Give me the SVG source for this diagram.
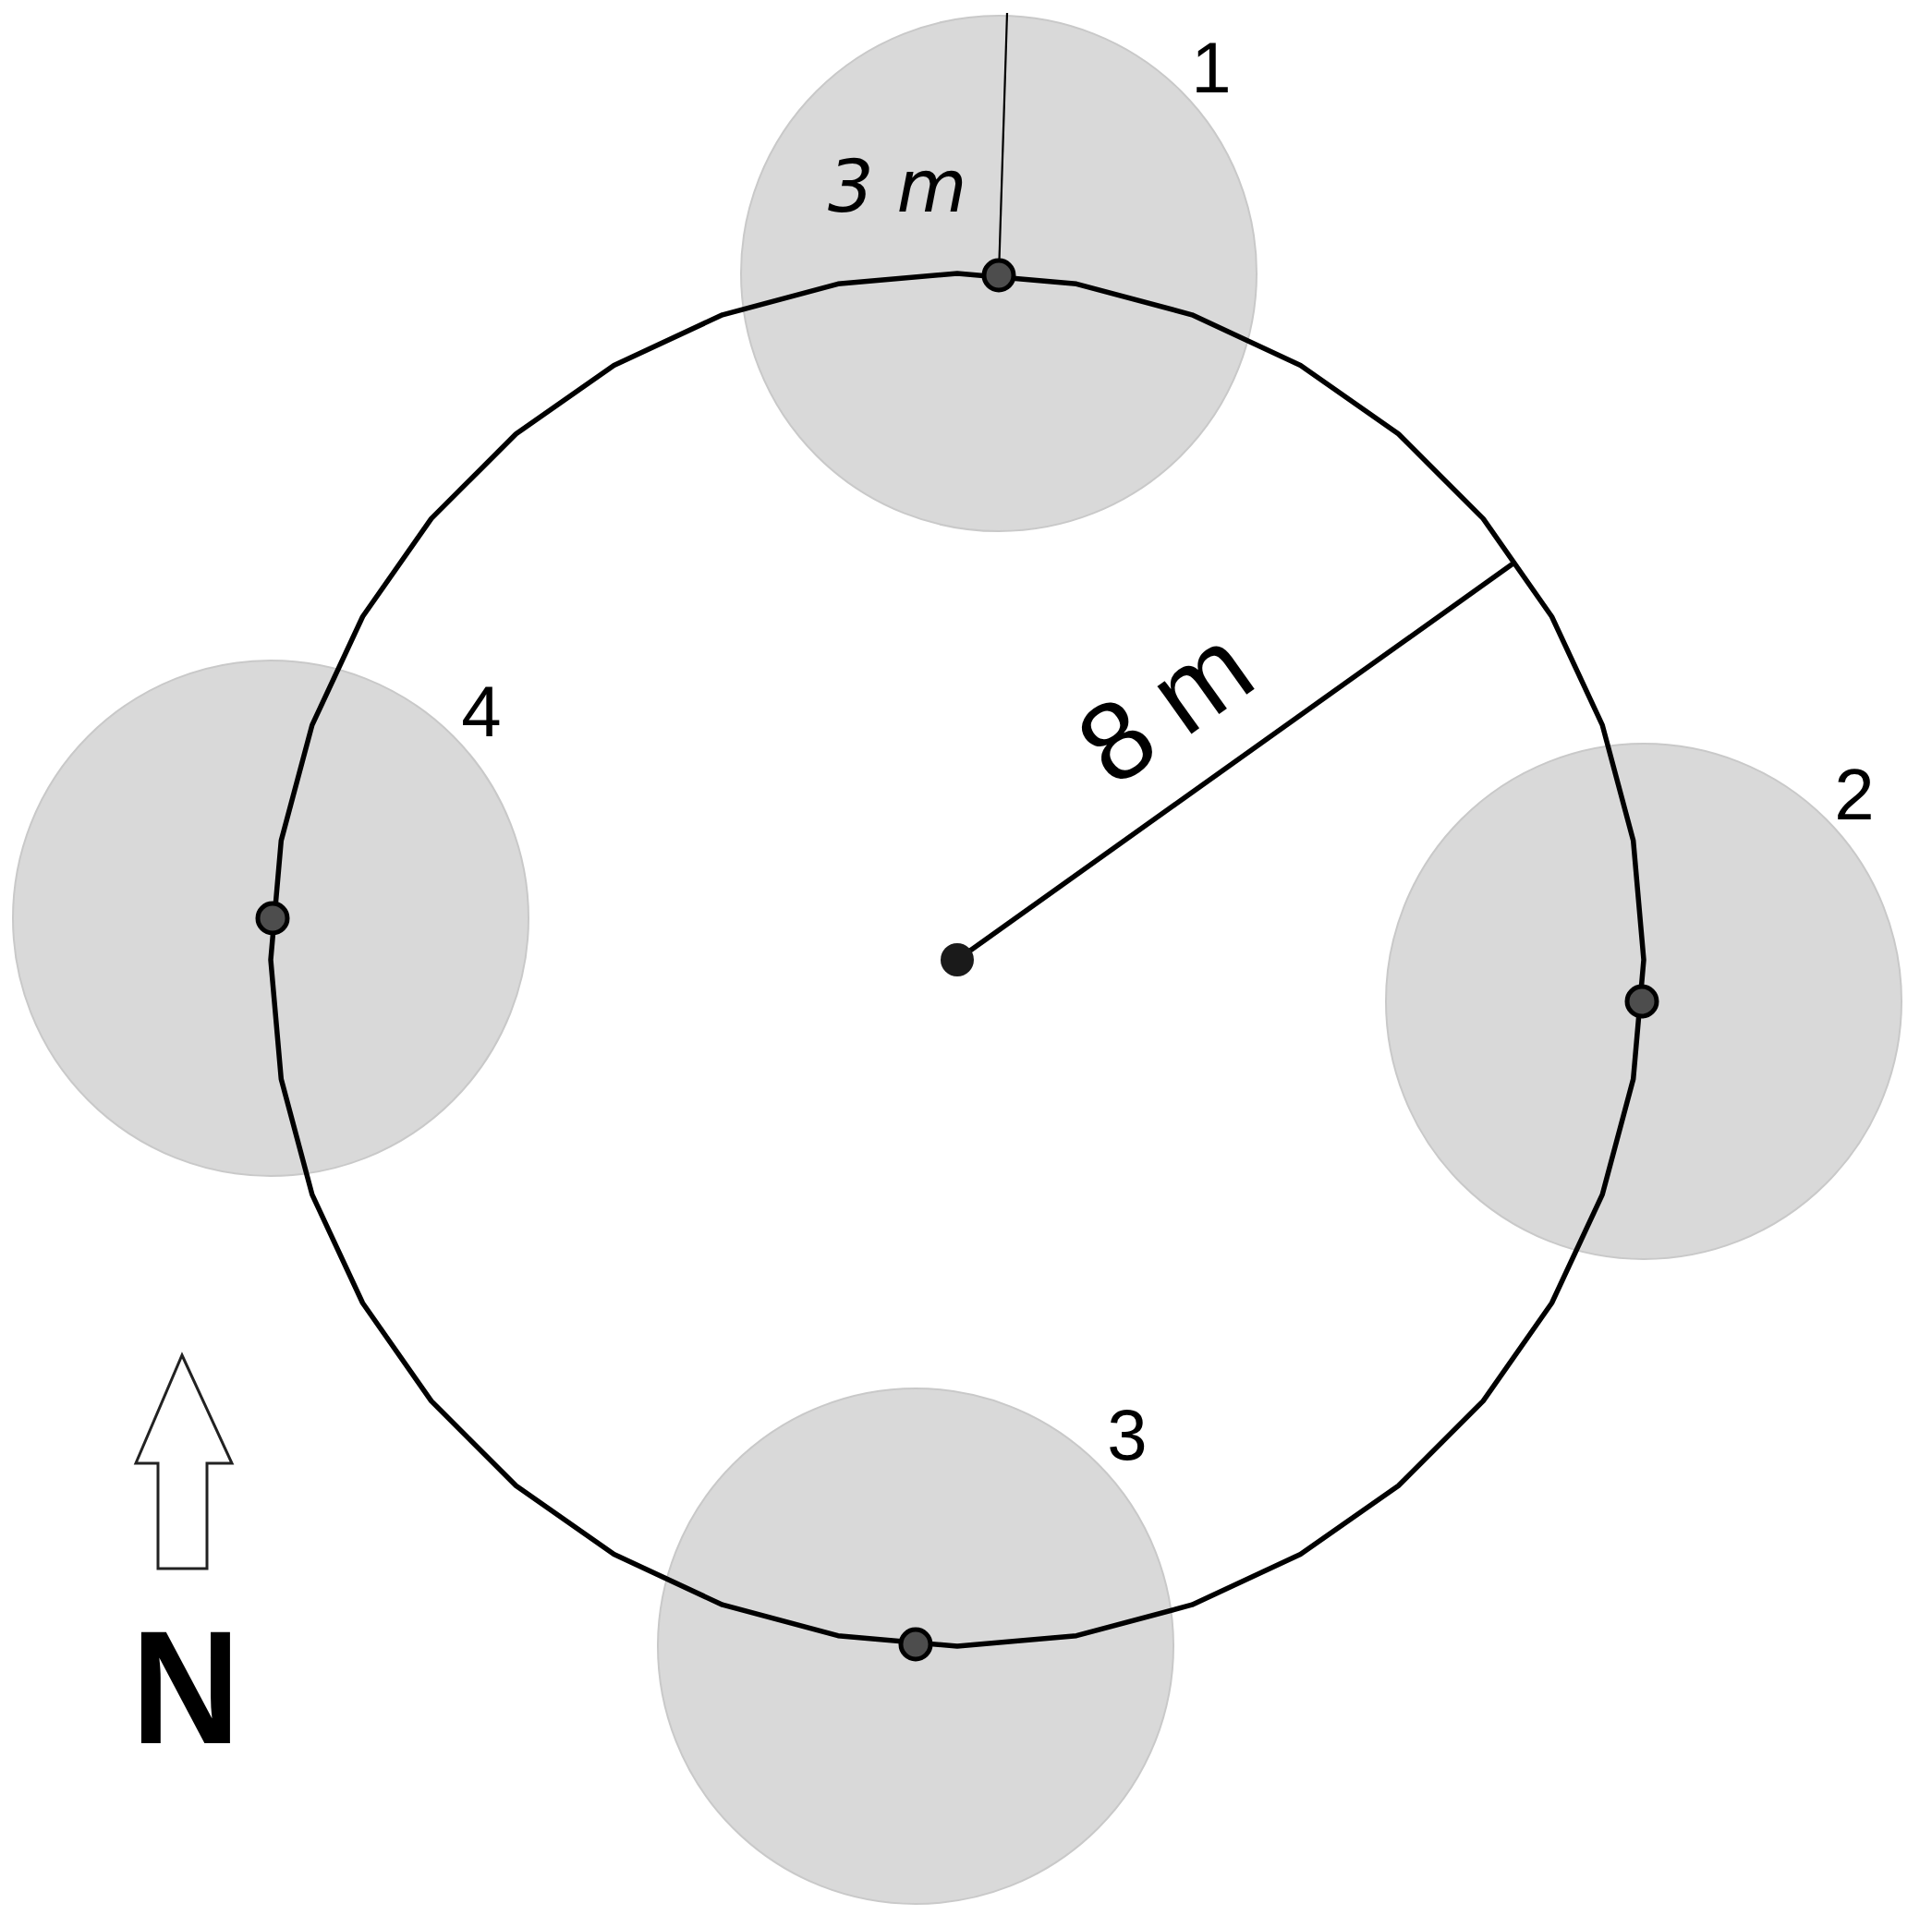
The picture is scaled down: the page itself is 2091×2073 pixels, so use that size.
<svg xmlns="http://www.w3.org/2000/svg" width="2091" height="2073" viewBox="0 0 2091 2073">
<style>
.zone{fill:#d9d9d9;stroke:#c9c9c9;stroke-width:2}
.pt{fill:#4d4d4d;stroke:#000;stroke-width:5}
.num{font-family:"Liberation Sans",Arial,sans-serif;font-size:78px;fill:#000;text-anchor:middle}
.ring{fill:none;stroke:#000;stroke-width:5.5;stroke-linejoin:round}
</style>
<rect width="2091" height="2073" fill="#fff"/>
<g id="zone1"><circle class="zone" cx="1081" cy="296" r="279"/></g>
<g id="zone2"><circle class="zone" cx="1779" cy="1084" r="279"/></g>
<g id="zone3"><circle class="zone" cx="991" cy="1782" r="279"/></g>
<g id="zone4"><circle class="zone" cx="293" cy="994" r="279"/></g>
<g id="connectors">
<polygon id="ring" class="ring" points="1036,296 1165.0,307.3 1290.1,340.8 1407.5,395.5 1513.6,469.8 1605.2,561.4 1679.5,667.5 1734.2,784.9 1767.7,910.0 1779,1039 1767.7,1168.0 1734.2,1293.1 1679.5,1410.5 1605.2,1516.6 1513.6,1608.2 1407.5,1682.5 1290.1,1737.2 1165.0,1770.7 1036,1782 907.0,1770.7 781.9,1737.2 664.5,1682.5 558.4,1608.2 466.8,1516.6 392.5,1410.5 337.8,1293.1 304.3,1168.0 293,1039 304.3,910.0 337.8,784.9 392.5,667.5 466.8,561.4 558.4,469.8 664.5,395.5 781.9,340.8 907.0,307.3"/>
<line x1="1036" y1="1039" x2="1639" y2="609" stroke="#000" stroke-width="5.5"/>
<line x1="1081" y1="298" x2="1090" y2="14" stroke="#000" stroke-width="2.2"/>
</g>
<g id="center"><circle cx="1036" cy="1039" r="18" fill="#1a1a1a"/></g>
<g id="pt1"><circle class="pt" cx="1081" cy="298" r="16"/></g>
<g id="pt2"><circle class="pt" cx="1777" cy="1084" r="16"/></g>
<g id="pt3"><circle class="pt" cx="991" cy="1780" r="16"/></g>
<g id="pt4"><circle class="pt" cx="295" cy="994" r="16"/></g>
<g id="labels">
<text class="num" x="1311" y="100">1</text>
<text class="num" x="2007" y="887">2</text>
<text class="num" x="1220" y="1580">3</text>
<text class="num" x="521" y="797">4</text>
<text x="896" y="229" font-family="DejaVu Sans,sans-serif" font-style="italic" font-size="78" fill="#000">3 m</text>
<text transform="translate(1036,1039) rotate(-35.5)" x="245" y="-52" font-family="Liberation Sans,Arial,sans-serif" font-size="120" textLength="195" lengthAdjust="spacing" fill="#000">8 m</text>
</g>
<g id="north">
<polygon points="197,1467 251,1584 224,1584 224,1698 171,1698 171,1584 147,1584" fill="#fff" stroke="#222" stroke-width="3" stroke-linejoin="miter"/>
<text x="201" y="1887" font-family="Liberation Sans,Arial,sans-serif" font-weight="bold" font-size="174" text-anchor="middle" textLength="118" lengthAdjust="spacingAndGlyphs" fill="#000">N</text>
</g>
</svg>
